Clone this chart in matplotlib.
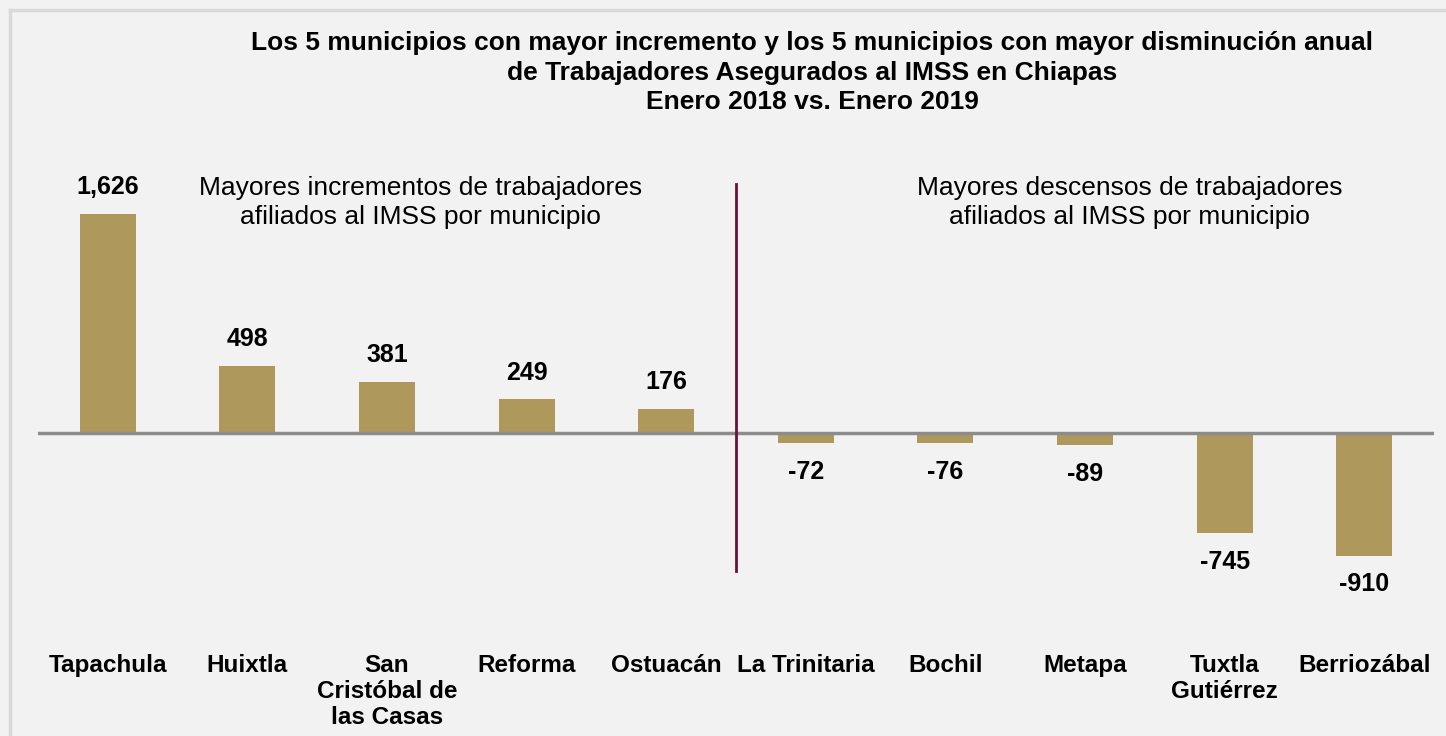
import numpy as np
import matplotlib
matplotlib.use("Agg")
import matplotlib.pyplot as plt
from matplotlib.lines import Line2D

# data
municipios = ["Tapachula", "Huixtla", "San\nCristóbal de\nlas Casas", "Reforma", "Ostuacán",
              "La Trinitaria", "Bochil", "Metapa", "Tuxtla\nGutiérrez", "Berriozábal"]
variacion = [1626, 498, 381, 249, 176, -72, -76, -89, -745, -910]

titulo = ("Los 5 municipios con mayor incremento y los 5 municipios con mayor disminución anual\n"
          "de Trabajadores Asegurados al IMSS en Chiapas\n"
          "Enero 2018 vs. Enero 2019")
nota_izq = "Mayores incrementos de trabajadores\nafiliados al IMSS por municipio"
nota_der = "Mayores descensos de trabajadores\nafiliados al IMSS por municipio"

plt.rcParams["font.family"] = ["Liberation Sans", "DejaVu Sans"]

bg = "#f2f2f2"
bar_color = "#ae985c"

W, H = 1446, 736
fig = plt.figure(figsize=(W / 100, H / 100), dpi=100, facecolor=bg)

# axes placed in pixel coordinates: x 38..1434, y 140..650 (from top)
ax_left, ax_right, ax_top, ax_bottom = 38, 1434, 140, 650
ax = fig.add_axes([ax_left / W, 1 - ax_bottom / H, (ax_right - ax_left) / W, (ax_bottom - ax_top) / H])
ax.set_facecolor(bg)

x = np.arange(len(municipios))
ax.bar(x, variacion, width=0.4, color=bar_color, zorder=2)
ax.axhline(0, color="#8c8c8c", lw=2.5, zorder=3)

# scale: zero at 433 px, 0.1347 px per unit
px_per_unit = 0.1347
ylow = -(ax_bottom - 433) / px_per_unit
yhigh = (433 - ax_top) / px_per_unit
ax.set_ylim(ylow, yhigh)
ax.set_xlim(-0.5, len(municipios) - 0.5)

for xi, v in zip(x, variacion):
    lab = f"{v:,}"
    if v >= 0:
        ax.text(xi, v + 110, lab, ha="center", va="bottom", fontsize=18, fontweight="bold")
    else:
        ax.text(xi, v - 125, lab, ha="center", va="top", fontsize=18, fontweight="bold")

# divider
ax.plot([4.5, 4.5], [1849, -1024], color="#6b1238", lw=2, zorder=4)

ax.text(2.24, 1712, nota_izq, ha="center", va="center", fontsize=19, linespacing=1.24)
ax.text(7.32, 1712, nota_der, ha="center", va="center", fontsize=19, linespacing=1.24)

ax.set_xticks(x)
ax.set_xticklabels(municipios, fontsize=17.5, fontweight="bold", linespacing=1.16)
ax.tick_params(axis="x", length=0, pad=3)
ax.set_yticks([])
for s in ax.spines.values():
    s.set_visible(False)

fig.text(812 / W, 1 - 31 / H, titulo, ha="center", va="top", fontsize=19,
         fontweight="bold", linespacing=1.29)

# frame lines (top and left)
fig.add_artist(Line2D([9.5 / W, 1.0], [1 - 9.5 / H, 1 - 9.5 / H], color="#d9d9d9", lw=2.5,
                      transform=fig.transFigure))
fig.add_artist(Line2D([9.5 / W, 9.5 / W], [0, 1 - 9.5 / H], color="#d9d9d9", lw=2.5,
                      transform=fig.transFigure))

fig.savefig("out.png", dpi=100, facecolor=bg)
